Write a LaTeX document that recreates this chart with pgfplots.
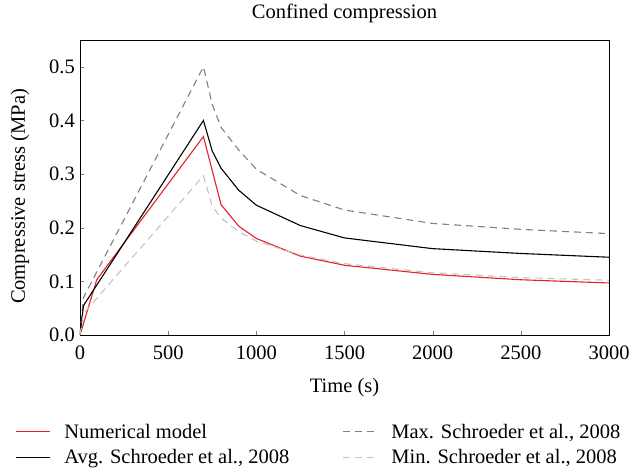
\documentclass[border=0pt]{standalone}
\usepackage{fontspec}
\setmainfont{Liberation Serif}
\usepackage{pgfplots}
\pgfplotsset{compat=1.18}

\definecolor{numred}{RGB}{228,32,40}
\definecolor{maxgray}{RGB}{128,128,128}
\definecolor{mingray}{RGB}{195,195,195}

\begin{document}
\begin{tikzpicture}[font=\fontsize{20.5bp}{24bp}\selectfont]
\begin{axis}[
    name=ax,
    width=529bp, height=295bp, scale only axis,
    xmin=0, xmax=3000, ymin=0, ymax=0.55,
    xtick={0,500,...,3000},
    ytick={0,0.1,...,0.5},
    tick align=inside,
    xtick pos=bottom, ytick pos=left,
    major tick length=4bp,
    axis line style={line width=0.8bp},
    /pgf/number format/assume math mode=true,
    /pgf/number format/1000 sep={},
    yticklabel style={/pgf/number format/fixed, /pgf/number format/fixed zerofill, /pgf/number format/precision=1, inner xsep=5bp},
    xticklabel style={anchor=center, yshift=-18bp},
    title={Confined compression},
    title style={at={(axis description cs:0.5,1)}, anchor=center, yshift=21bp},
    xlabel={Time (s)},
    xlabel style={at={(axis description cs:0.5,0)}, anchor=center, yshift=-53bp},
    ylabel={Compressive stress (MPa)},
    ylabel style={at={(axis description cs:-0.1134,0.47)}, anchor=center},
    legend columns=2,
    legend cell align=left,
    legend style={at={(axis description cs:-0.1229,-0.294)}, anchor=north west, draw=none, inner sep=0pt, row sep=6bp,
        /tikz/column 1/.style={column sep=12bp},
        /tikz/column 2/.style={column sep=51bp},
        /tikz/column 3/.style={column sep=12bp}},
    legend image code/.code={\draw[#1] (0bp,0bp) -- (34bp,0bp);},
    every axis plot/.append style={line width=1.1bp},
]
\addplot[numred] coordinates {
(0,0) (95,0.103) (700,0.370) (800,0.243) (900,0.203) (1000,0.180) (1250,0.147) (1500,0.130) (2000,0.113) (2500,0.103) (3000,0.097)
};
\addlegendentry{Numerical model}
\addplot[maxgray, dash pattern=on 7bp off 5bp] coordinates {
(0,0) (20,0.070) (700,0.500) (750,0.430) (800,0.387) (900,0.345) (1000,0.309) (1250,0.260) (1500,0.233) (2000,0.208) (2500,0.197) (3000,0.189)
};
\addlegendentry{Max. Schroeder et al., 2008}
\addplot[black] coordinates {
(0,0) (20,0.055) (700,0.400) (750,0.343) (800,0.311) (900,0.270) (1000,0.242) (1250,0.204) (1500,0.181) (2000,0.161) (2500,0.152) (3000,0.145)
};
\addlegendentry{Avg. Schroeder et al., 2008}
\addplot[mingray, dash pattern=on 7bp off 5bp] coordinates {
(0,0) (20,0.040) (700,0.297) (750,0.240) (800,0.218) (900,0.193) (1000,0.175) (1250,0.149) (1500,0.133) (2000,0.116) (2500,0.107) (3000,0.102)
};
\addlegendentry{Min. Schroeder et al., 2008}
\end{axis}
\pgfresetboundingbox
\path[use as bounding box] ([shift={(-80bp,-135bp)}]ax.south west) rectangle ([shift={(563bp,335bp)}]ax.south west);
\end{tikzpicture}
\end{document}
